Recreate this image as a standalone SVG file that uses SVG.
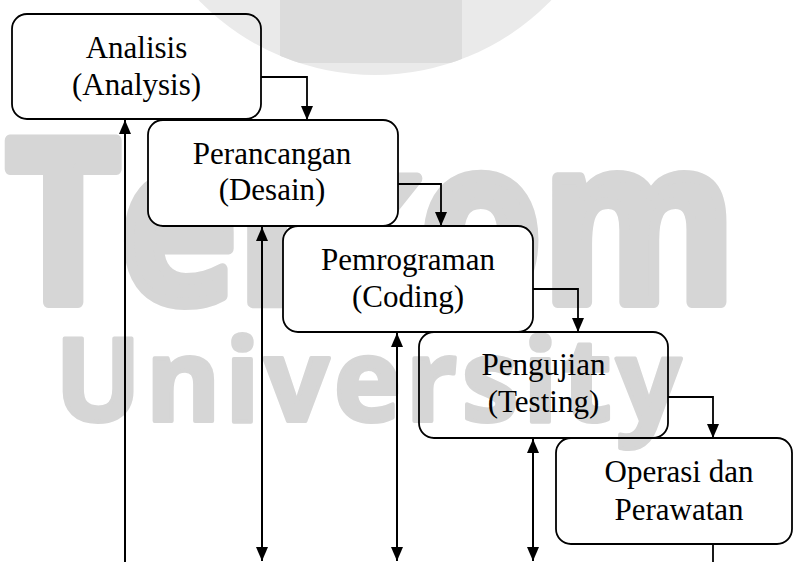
<svg xmlns="http://www.w3.org/2000/svg" width="793" height="562" viewBox="0 0 793 562">
  <defs>
    <marker id="arr" viewBox="0 0 14 12" refX="14" refY="6" markerWidth="14" markerHeight="12" markerUnits="userSpaceOnUse" orient="auto-start-reverse">
      <path d="M0,0 L14,6 L0,12 z" fill="#000"/>
    </marker>
    <clipPath id="circ"><circle cx="375" cy="-170" r="245"/></clipPath>
  </defs>
  <style>
    .box { stroke: #000; stroke-width: 1.8; }
    .lbl { font-family: "Liberation Serif", "Times New Roman", serif; font-size: 31px; fill: #000; text-anchor: middle; }
    .wm { font-family: "Open Sans", "Liberation Sans", sans-serif; font-weight: bold; fill: #d6d6d6; stroke: #d6d6d6; stroke-linejoin: round; }
    .con { fill: none; stroke: #000; stroke-width: 1.8; }
    .fb { fill: none; stroke: #000; stroke-width: 2; }
  </style>
  <rect width="793" height="562" fill="#fff"/>
  <g id="watermark">
    <circle cx="375" cy="-170" r="245" fill="#eaeaea"/>
    <rect x="280" y="0" width="182" height="63" fill="#dcdcdc" clip-path="url(#circ)"/>
    <text class="wm" x="6" y="302" font-size="227" stroke-width="12" textLength="730" lengthAdjust="spacingAndGlyphs">Telkom</text>
  </g>
  <g id="n1">
    <rect class="box" x="12" y="14" width="249" height="105" rx="15" fill="none"/>
    <text class="lbl" x="136.5" y="58">Analisis</text>
    <text class="lbl" x="136.5" y="95">(Analysis)</text>
  </g>
  <g id="n2">
    <rect class="box" x="148" y="120" width="250" height="106" rx="15" fill="#fff"/>
    <text class="lbl" x="272" y="164">Perancangan</text>
    <text class="lbl" x="272" y="200">(Desain)</text>
  </g>
  <g id="n3">
    <rect class="box" x="283" y="226" width="250" height="106" rx="15" fill="#fff"/>
    <text class="lbl" x="408" y="270">Pemrograman</text>
    <text class="lbl" x="408" y="307">(Coding)</text>
  </g>
  <g id="watermark2">
    <text class="wm" x="55" y="421" font-size="114" stroke-width="4" textLength="626">University</text>
  </g>
  <g id="n4">
    <rect class="box" x="419" y="332" width="249" height="106" rx="15" fill="none"/>
    <text class="lbl" x="543.5" y="375">Pengujian</text>
    <text class="lbl" x="543.5" y="412">(Testing)</text>
  </g>
  <g id="n5">
    <rect class="box" x="556" y="438" width="236" height="106" rx="15" fill="none"/>
    <text class="lbl" x="679" y="482">Operasi dan</text>
    <text class="lbl" x="679" y="520">Perawatan</text>
  </g>
  <g id="connectors">
    <path class="con" d="M261,77 H307 V120" marker-end="url(#arr)"/>
    <path class="con" d="M398,184 H441 V226" marker-end="url(#arr)"/>
    <path class="con" d="M533,289 H578 V332" marker-end="url(#arr)"/>
    <path class="con" d="M668,397 H713 V438" marker-end="url(#arr)"/>
    <path class="con" d="M713,544 V562"/>
    <path class="fb" d="M125,562 V120" marker-end="url(#arr)"/>
    <path class="fb" d="M262,227 V561" marker-start="url(#arr)" marker-end="url(#arr)"/>
    <path class="fb" d="M397,333 V561" marker-start="url(#arr)" marker-end="url(#arr)"/>
    <path class="fb" d="M533,439 V561" marker-start="url(#arr)" marker-end="url(#arr)"/>
  </g>
</svg>
